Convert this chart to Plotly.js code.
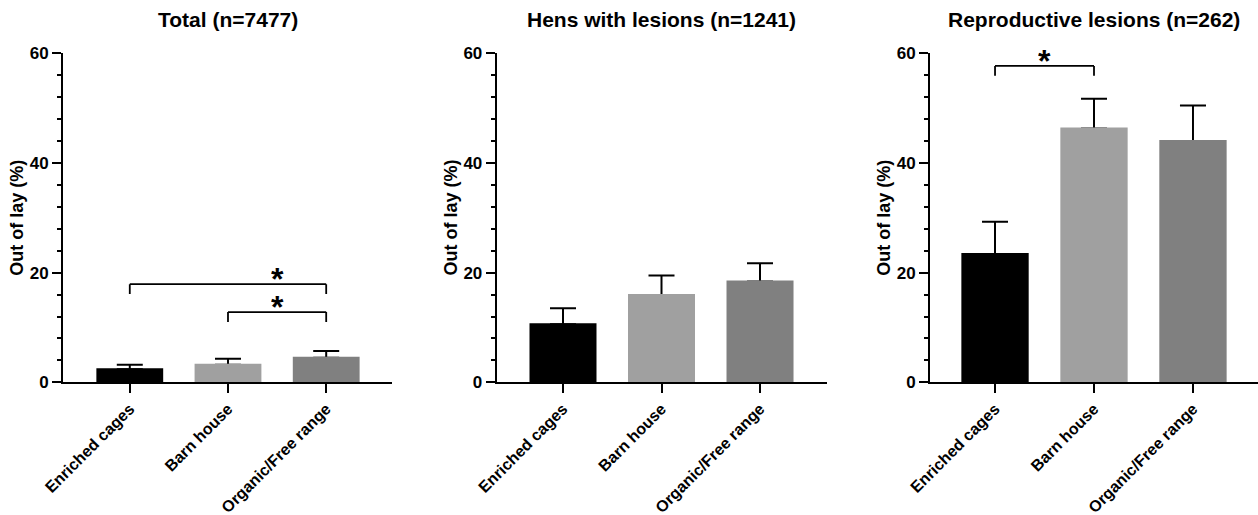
<!DOCTYPE html>
<html>
<head>
<meta charset="utf-8">
<script src="https://cdn.plot.ly/plotly-3.0.1.min.js"></script>
<style>html,body{margin:0;padding:0;background:#fff;}#chart{width:1258px;height:515px;}</style>
</head>
<body>
<div id="chart"></div>
<script>
// ---- data ----
const categories = ["Enriched cages", "Barn house", "Organic/Free range"];
const panelTitles = ["Total (n=7477)", "Hens with lesions (n=1241)", "Reproductive lesions (n=262)"];
const yTitle = "Out of lay (%)";
const totalMean = [2.4, 3.2, 4.5];
const totalErr = [0.8, 1.1, 1.2];
const lesionsMean = [10.6, 15.9, 18.4];
const lesionsErr = [2.9, 3.6, 3.3];
const reproMean = [23.4, 46.3, 44.0];
const reproErr = [5.9, 5.4, 6.5];
const yTickVals = [0, 20, 40, 60];
// significance brackets: [panel, fromIndex, toIndex, height, label position]
const brackets = [[0, 0, 2, 17.9, 1.5], [0, 1, 2, 12.8, 1.5], [2, 0, 1, 57.7, 0.5]];
const sigLabel = "*";

// ---- styling ----
const barColors = ["#000000", "#a0a0a0", "#808080"];
const FONT = "Liberation Sans, Arial, Helvetica, sans-serif";
const domainsX = [[63/1258, 392/1258], [496.7/1258, 826.7/1258], [930/1258, 1]];
const domainY = [1 - 382.3/515, 1 - 53.3/515];
const xRanges = [[-0.68, 2.67], [-0.673, 2.677], [-0.657, 2.657]];
const legDrop = 1.8;

const means = [totalMean, lesionsMean, reproMean];
const errs = [totalErr, lesionsErr, reproErr];

const traces = [];
means.forEach((m, i) => {
  const xa = i === 0 ? "x" : "x" + (i + 1);
  const ya = i === 0 ? "y" : "y" + (i + 1);
  // bars carrying the upward error bars
  traces.push({
    type: "bar", x: categories, y: m, xaxis: xa, yaxis: ya, width: 0.66,
    marker: {color: barColors, line: {width: 0}},
    error_y: {type: "data", symmetric: false, array: errs[i], arrayminus: errs[i].map(() => 0),
              color: "#000", thickness: 2, width: 13},
    showlegend: false, hoverinfo: "skip"
  });
  // same bars drawn on top, hiding the lower cap
  traces.push({
    type: "bar", x: categories, y: m, xaxis: xa, yaxis: ya, width: 0.66,
    marker: {color: barColors, line: {width: 2, color: barColors}},
    showlegend: false, hoverinfo: "skip"
  });
});

const layout = {
  width: 1258, height: 515,
  margin: {l: 0, r: 0, t: 0, b: 0},
  barmode: "overlay",
  paper_bgcolor: "#fff", plot_bgcolor: "rgba(0,0,0,0)",
  font: {family: FONT, color: "#000", weight: "bold"},
  showlegend: false,
  shapes: [], annotations: []
};

for (let i = 0; i < 3; i++) {
  const sx = i === 0 ? "" : String(i + 1);
  layout["xaxis" + sx] = {
    domain: domainsX[i], anchor: "y" + sx, type: "category",
    range: xRanges[i], showline: true, linewidth: 2, linecolor: "#000",
    ticks: "outside", ticklen: 9, tickwidth: 2, tickcolor: "#000",
    tickangle: -45, showgrid: false, zeroline: false, fixedrange: true,
    tickfont: {family: FONT, size: 16, color: "#000", weight: "bold"},
    automargin: false
  };
  layout["yaxis" + sx] = {
    domain: domainY, anchor: "x" + sx, range: [0, 60],
    tickvals: yTickVals, ticktext: yTickVals.map(String),
    showline: true, linewidth: 2, linecolor: "#000",
    ticks: "outside", ticklen: 9, tickwidth: 2, tickcolor: "#000",
    minor: {dtick: 4, tick0: 0, ticks: "outside", ticklen: 4, tickwidth: 2, tickcolor: "#000", showgrid: false},
    showgrid: false, zeroline: false, fixedrange: true,
    tickfont: {family: FONT, size: 17, color: "#000", weight: "bold"},
    automargin: false
  };
  const cx = (domainsX[i][0] + domainsX[i][1]) / 2;
  layout.annotations.push({
    text: panelTitles[i], xref: "paper", yref: "paper", x: cx, y: 1 - 20/515,
    xanchor: "center", yanchor: "middle", showarrow: false,
    font: {family: FONT, size: 21, color: "#000", weight: "bold"}
  });
  layout.annotations.push({
    text: yTitle, xref: "paper", yref: "paper", x: domainsX[i][0], xshift: -46,
    y: (domainY[0] + domainY[1]) / 2, xanchor: "center", yanchor: "middle",
    textangle: -90, showarrow: false,
    font: {family: FONT, size: 18, color: "#000", weight: "bold"}
  });
}

brackets.forEach(([p, a, b, h, sx0]) => {
  const sx = p === 0 ? "" : String(p + 1);
  const xr = "x" + sx, yr = "y" + sx;
  const line = {color: "#000", width: 1.8};
  layout.shapes.push({type: "line", xref: xr, yref: yr, x0: a, x1: b, y0: h, y1: h, line});
  layout.shapes.push({type: "line", xref: xr, yref: yr, x0: a, x1: a, y0: h, y1: h - legDrop, line});
  layout.shapes.push({type: "line", xref: xr, yref: yr, x0: b, x1: b, y0: h, y1: h - legDrop, line});
  layout.annotations.push({
    text: sigLabel, xref: xr, yref: yr, x: sx0, y: h, xanchor: "center", yanchor: "top",
    height: 20, valign: "top", borderpad: 0,
    yshift: 24, showarrow: false, font: {family: FONT, size: 32, color: "#000", weight: "bold"}
  });
});

Plotly.newPlot("chart", traces, layout, {displayModeBar: false, staticPlot: true});
</script>
</body>
</html>
